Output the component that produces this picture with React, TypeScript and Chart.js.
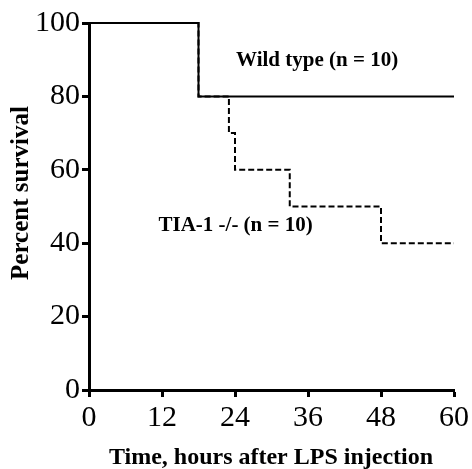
import { useEffect, useRef } from 'react';
import { Chart, registerables } from 'chart.js';

Chart.register(...registerables);

const wildTimes = [0, 18, 60];
const wildSurvival = [100, 80, 80];
const tiaTimes = [0, 18, 23, 24, 33, 48, 60];
const tiaSurvival = [100, 80, 70, 60, 50, 40, 40];
const annotationTexts = ['Wild type (n = 10)', 'TIA-1 -/- (n = 10)'];
const annotationX = [37.5, 24.1];
const annotationY = [88.3, 43.3];
const xTitle = 'Time, hours after LPS injection';
const yTitle = 'Percent survival';

const SERIF = '"Liberation Serif", "Times New Roman", serif';

const textPlugin = {
  id: 'groupLabels',
  afterDatasetsDraw(chart: any) {
    const { ctx, scales, chartArea } = chart;
    ctx.save();
    ctx.fillStyle = '#000';
    ctx.font = `bold 21px ${SERIF}`;
    ctx.textAlign = 'center';
    ctx.textBaseline = 'alphabetic';
    annotationTexts.forEach((t, i) => {
      ctx.fillText(t, scales.x.getPixelForValue(annotationX[i]), scales.y.getPixelForValue(annotationY[i]));
    });
    // axis titles
    ctx.font = `bold 24px ${SERIF}`;
    ctx.fillText(xTitle, 271, 464);
    ctx.translate(28, 193);
    ctx.rotate(-Math.PI / 2);
    ctx.font = `bold 25px ${SERIF}`;
    ctx.fillText(yTitle, 0, 0);
    ctx.restore();
  },
};

export default function App() {
  const ref = useRef<HTMLCanvasElement | null>(null);
  useEffect(() => {
    if (!ref.current) return;
    const chart = new Chart(ref.current, {
      type: 'scatter',
      data: {
        datasets: [
          {
            label: 'Wild type',
            data: wildTimes.map((t, i) => ({ x: t, y: wildSurvival[i] })),
            showLine: true,
            stepped: 'before' as any,
            borderColor: '#000',
            borderWidth: 2,
            pointRadius: 0,
            clip: false as any,
          },
          {
            label: 'TIA-1 -/-',
            data: tiaTimes.map((t, i) => ({ x: t, y: tiaSurvival[i] })),
            showLine: true,
            stepped: 'before' as any,
            borderColor: '#000',
            borderWidth: 2,
            borderDash: [6, 3],
            pointRadius: 0,
            clip: false as any,
          },
        ],
      },
      options: {
        animation: false,
        responsive: true,
        maintainAspectRatio: false,
        layout: { padding: { top: 23, right: 17, left: 0, bottom: 0 } },
        plugins: { legend: { display: false }, tooltip: { enabled: false } },
        scales: {
          x: {
            type: 'linear',
            min: 0,
            max: 60,
            afterFit: (s: any) => { s.height = 79; },
            ticks: { stepSize: 12, color: '#000', padding: 3, font: { family: SERIF, size: 30 } },
            grid: { drawOnChartArea: false, drawTicks: true, tickLength: 7, tickWidth: 3, tickColor: '#000', color: '#000' },
            border: { display: true, width: 3, color: '#000' },
            title: { display: false },
          },
          y: {
            type: 'linear',
            min: 0,
            max: 100,
            afterFit: (s: any) => { s.width = 89; },
            ticks: { stepSize: 20, color: '#000', padding: 2, font: { family: SERIF, size: 30 } },
            grid: { drawOnChartArea: false, drawTicks: true, tickLength: 7, tickWidth: 3, tickColor: '#000', color: '#000' },
            border: { display: true, width: 3, color: '#000' },
            title: { display: false },
          },
        },
      },
      plugins: [textPlugin],
    });
    return () => chart.destroy();
  }, []);
  return (
    <div style={{ position: 'fixed', left: 0, top: 0, width: 472, height: 469, background: '#fff' }}>
      <canvas ref={ref} />
    </div>
  );
}
